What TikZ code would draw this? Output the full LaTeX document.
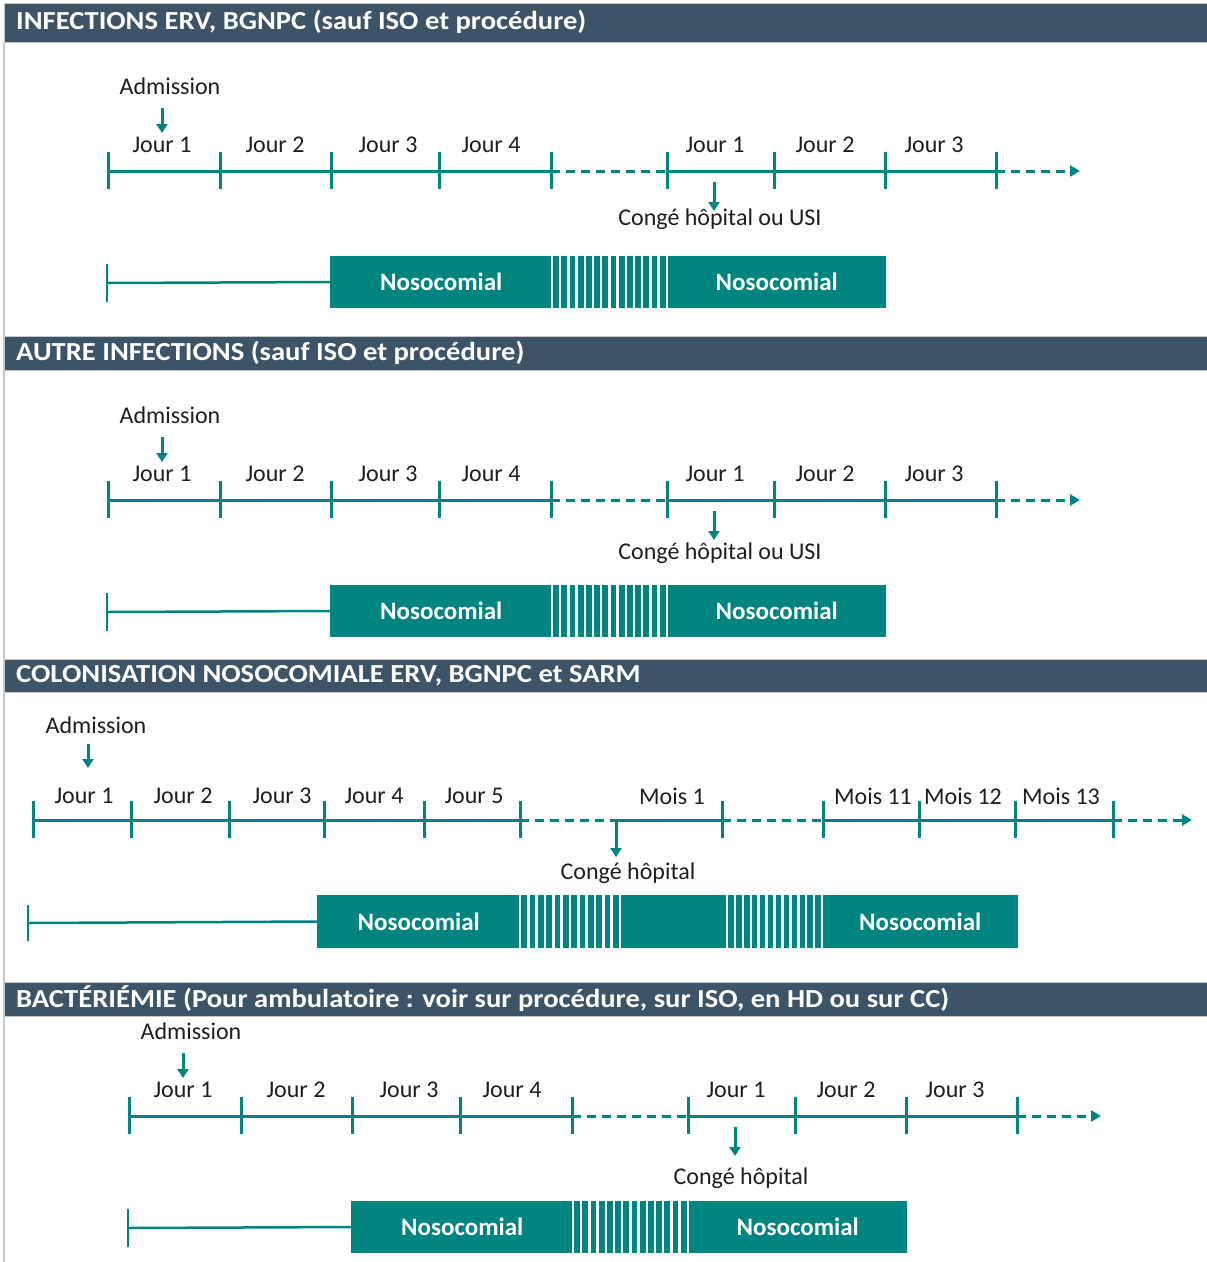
\documentclass[tikz,border=0pt]{standalone}
\usepackage{fontspec}
\setmainfont{Carlito}
\newfontfamily\hdrfont{Carlito}[FakeStretch=1.1]
\usepackage{tikz}
\usetikzlibrary{calc,arrows.meta}
\definecolor{sea}{HTML}{00847F}
\definecolor{slate}{HTML}{3D5468}
\definecolor{ink}{HTML}{1E1E1E}
\definecolor{rule}{HTML}{C8C8C8}
\tikzset{
  hdr/.style={fill=slate, draw=rule, line width=1pt},
  hdrtxt/.style={text=white, font=\hdrfont\bfseries\fontsize{26}{28}\selectfont, anchor=west, inner sep=0pt},
  lab/.style={text=ink, font=\fontsize{24}{26}\selectfont, inner sep=0pt},
  tline/.style={draw=sea, line width=3pt},
  dline/.style={tline, dash pattern=on 9pt off 6pt},
  tickmark/.style={draw=sea, line width=3pt},
  arr/.style={draw=sea, line width=3pt, -{Triangle[length=9pt,width=11pt]}},
  endarr/.style={-{Triangle[length=10pt,width=11pt]}},
  nbox/.style={fill=sea, text=white, font=\bfseries\fontsize{25}{27}\selectfont,
    minimum height=52pt, inner sep=0pt, anchor=west},
  stripe/.style={draw=white, line width=2.5pt},
  pics/joursection/.style 2 args={code={
    \node[lab] (adm) at (170,86) {Admission};
    \coordinate (admA) at (162,108);
    \coordinate (admB) at (162,133);
    \draw[arr] (admA) -- (admB);
    \foreach \x [count=\k] in {108,220,331,439,551,667,774,885,996}
      \coordinate (t\k) at (\x,171);
    \coordinate (tEnd) at (1080,171);
    \draw[tline] (t1) -- (t5);
    \draw[dline] (t5) -- (t6);
    \draw[tline] (t6) -- (t9);
    \draw[dline, endarr] (t9) -- (tEnd);
    \foreach \k in {1,...,9}
      \draw[tickmark] ([yshift=19pt]t\k) -- ([yshift=-18pt]t\k);
    \foreach \x/\t [count=\k] in {162/Jour 1,275/Jour 2,388/Jour 3,491/Jour 4,
                                  715/Jour 1,825/Jour 2,934/Jour 3}
      \node[lab] (j\k) at (\x,145) {\t};
    % sortie
    \coordinate (cgA) at (714,182);
    \coordinate (cgB) at (714,211);
    \draw[arr] (cgA) -- (cgB);
    \node[lab] (cg) at (720,#2) {#1};
    % barre
    \coordinate (bTop) at (107,264);
    \coordinate (bBot) at (107,302);
    \coordinate (bMid) at (107,283);
    \draw[tickmark, line width=2.5pt] (bTop) -- (bBot);
    \node[nbox, minimum width=222pt] (nA) at (330,282) {Nosocomial};
    \node[nbox, minimum width=219pt] (nB) at (667,282) {Nosocomial};
    \draw[tline, line width=2.5pt] (bMid) -- (nA.west);
    \fill[sea] (552,256) rectangle (667,308);
    \foreach \s in {0,...,14}
      \draw[stripe] (552+\s*8.2,256) -- ++(0,52);
  }},
}

\begin{document}
\begin{tikzpicture}[x=1pt, y=-1pt]
  \useasboundingbox (0,0) rectangle (1207,1262);
  \draw[rule, line width=1.5pt] (4,42) -- (4,1262);
  % bandeaux
  \path[hdr] (4,3) rectangle (1210,42);
  \path[hdr] (4,336) rectangle (1210,370);
  \path[hdr] (4,659) rectangle (1210,692);
  \path[hdr] (4,982) rectangle (1210,1016);
  \node[hdrtxt] (h1) at (16,22) {INFECTIONS ERV, BGNPC (sauf ISO et procédure)};
  \node[hdrtxt] (h2) at (16,353) {AUTRE INFECTIONS (sauf ISO et procédure)};
  \node[hdrtxt] (h3) at (16,676) {COLONISATION NOSOCOMIALE ERV, BGNPC et SARM};
  \node[hdrtxt] (h4) at (16,999) {BACTÉRIÉMIE (Pour ambulatoire : voir sur procédure, sur ISO, en HD ou sur CC)};

  \pic (s1) at (0,0) {joursection={Congé hôpital ou USI}{219}};
  \pic (s2) at (0,329) {joursection={Congé hôpital ou USI}{224}};
  \pic (s4) at (21,945) {joursection={Congé hôpital}{233}};

  % colonisation
  \node[lab] (adm3) at (96,725) {Admission};
  \coordinate (adm3A) at (88,744);
  \coordinate (adm3B) at (88,768);
  \draw[arr] (adm3A) -- (adm3B);
  \foreach \x [count=\k] in {33,131,229,324,424,520,722,823,919,1015,1113}
    \coordinate (m\k) at (\x,820);
  \coordinate (cg3) at (616,820);
  \coordinate (cg3B) at (616,857);
  \coordinate (mEnd) at (1192,820);
  \draw[tline] (m1) -- (m6);
  \draw[dline] (m6) -- (cg3);
  \draw[dline] (m7) -- (m8);
  \draw[tline] (m8) -- (m11);
  \draw[dline, endarr] (m11) -- (mEnd);
  \draw[arr] (m7) -- (cg3) -- (cg3B);
  \foreach \k in {1,...,11}
    \draw[tickmark] ([yshift=19pt]m\k) -- ([yshift=-18pt]m\k);
  \foreach \x/\t [count=\k] in {84/Jour 1,183/Jour 2,282/Jour 3,374/Jour 4,474/Jour 5,
                                672/Mois 1,873/Mois 11,963/Mois 12,1061/Mois 13}
    \node[lab] (mo\k) at (\x,796) {\t};
  \node[lab] (cg3t) at (628,873) {Congé hôpital};
  \coordinate (b3Top) at (28,905);
  \coordinate (b3Bot) at (28,941);
  \coordinate (b3Mid) at (28,923);
  \draw[tickmark, line width=2.5pt] (b3Top) -- (b3Bot);
  \node[nbox, minimum width=203pt, minimum height=53pt] (nC) at (317,921.5) {Nosocomial};
  \node[nbox, minimum width=107pt, minimum height=53pt] (nD) at (620,921.5) {};
  \node[nbox, minimum width=196pt, minimum height=53pt] (nE) at (822,921.5) {Nosocomial};
  \draw[tline, line width=2.5pt] (b3Mid) -- (nC.west);
  \fill[sea] (520,895) rectangle (620,948);
  \fill[sea] (727,895) rectangle (822,948);
  \foreach \s in {0,...,12}
    \draw[stripe] (520+\s*8.33,895) -- ++(0,53);
  \foreach \s in {0,...,12}
    \draw[stripe] (727+\s*7.92,895) -- ++(0,53);
\end{tikzpicture}
\end{document}
